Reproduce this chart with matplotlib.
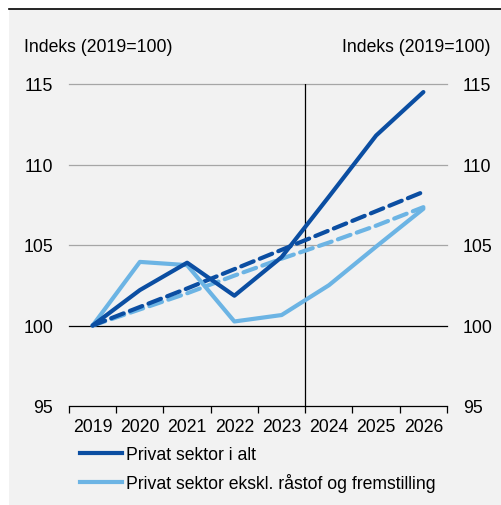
import matplotlib
matplotlib.use('Agg')
from matplotlib import pyplot as plt
from matplotlib.lines import Line2D
from matplotlib.patches import Rectangle

plt.rcParams['font.family'] = ['Liberation Sans', 'DejaVu Sans']
FS = 12.7

years = ['2019', '2020', '2021', '2022', '2023', '2024', '2025', '2026']

# faktiske / prognose
privat_i_alt = [100.0, 102.2, 103.9, 101.85, 104.25, 108.0, 111.8, 114.5]
privat_ekskl = [100.0, 103.95, 103.75, 100.25, 100.65, 102.5, 104.9, 107.25]
# trend (stiplet)
trend_i_alt = [100.0, 101.15, 102.3, 103.5, 104.7, 105.9, 107.1, 108.3]
trend_ekskl = [100.0, 101.0, 102.0, 103.1, 104.15, 105.15, 106.2, 107.35]

legend_labels = ['Privat sektor i alt', 'Privat sektor ekskl. råstof og fremstilling']
yticks = [95, 100, 105, 110, 115]

dark = '#0b4ea2'
light = '#6cb4e4'

W, H = 502, 506
fig = plt.figure(figsize=(W / 100, H / 100), dpi=100, facecolor='white')

# grå baggrund og sort streg i toppen
fig.patches.append(Rectangle((9 / W, 0), 1 - 9 / W, 1 - 10 / H, transform=fig.transFigure,
                             facecolor='#f2f2f2', edgecolor='none', zorder=-10))
fig.lines.append(Line2D([9 / W, 1], [1 - 10 / H, 1 - 10 / H], transform=fig.transFigure,
                        color='black', lw=1.2))

ax = fig.add_axes([69 / W, 1 - 407 / H, (447 - 69) / W, (407 - 85) / H])
ax.set_facecolor('none')
ax.set_zorder(2)

x = list(range(len(years)))
ax.set_xlim(-0.5, len(years) - 0.5)
ax.set_ylim(95, 115)

for v in yticks[1:]:
    ax.axhline(v, color='black' if v == 100 else '#a6a6a6', lw=0.9, zorder=1, clip_on=False)
ax.axvline(4.5, color='black', lw=0.9, zorder=1)

ax.plot(x, trend_ekskl, color=light, lw=3, dashes=(3.2, 1.6), dash_capstyle='round', zorder=3)
ax.plot(x, trend_i_alt, color=dark, lw=3, dashes=(3.2, 1.6), dash_capstyle='round', zorder=3)
ax.plot(x, privat_ekskl, color=light, lw=3, solid_capstyle='round', zorder=4)
ax.plot(x, privat_i_alt, color=dark, lw=3, solid_capstyle='round', zorder=5)

for s in ['left', 'right', 'top']:
    ax.spines[s].set_visible(False)
ax.spines['bottom'].set_linewidth(0.9)

ax.set_xticks(x)
ax.set_xticklabels(years)
ax.set_xticks([i - 0.5 for i in range(len(years) + 1)], minor=True)
ax.tick_params(axis='x', which='major', length=0, pad=9, labelsize=FS)
ax.tick_params(axis='x', which='minor', length=5, width=0.9, direction='out')

ax.set_yticks(yticks)
ax.tick_params(axis='y', length=0, pad=11.5, labelsize=FS, labelleft=True, labelright=True)

fig.text(24 / W, 1 - 47 / H, 'Indeks (2019=100)', ha='left', va='center', fontsize=FS)
fig.text(491 / W, 1 - 47 / H, 'Indeks (2019=100)', ha='right', va='center', fontsize=FS)

handles = [Line2D([], [], color=dark, lw=3), Line2D([], [], color=light, lw=3)]
fig.legend(handles, legend_labels, loc='upper left', bbox_to_anchor=(80 / W, 1 - 447 / H),
           frameon=False, fontsize=FS, handlelength=2.4, handletextpad=0.2,
           labelspacing=0.55, borderpad=0, borderaxespad=0)

fig.savefig('out.png', dpi=100, facecolor=fig.get_facecolor())
